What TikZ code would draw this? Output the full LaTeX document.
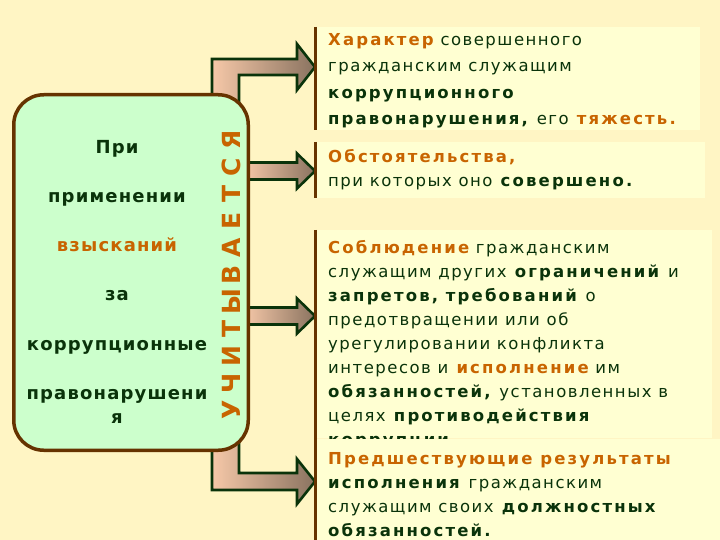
\documentclass[tikz,border=0pt]{standalone}
\usepackage{fontspec}
\setmainfont{DejaVu Sans}[LetterSpace=9, BoldFeatures={LetterSpace=13}]
\newfontfamily\leftfont{DejaVu Sans}[LetterSpace=6.5]
\usetikzlibrary{calc}

\definecolor{paper}{HTML}{FFF5C4}
\definecolor{cardfill}{HTML}{FFFFD2}
\definecolor{mint}{HTML}{CCFFCC}
\definecolor{rust}{HTML}{663300}
\definecolor{pine}{HTML}{0A330A}
\definecolor{ochre}{HTML}{C86400}
\definecolor{peach}{HTML}{F6C8A8}
\definecolor{taupe}{HTML}{8A7360}

\pgfdeclarelayer{bg}
\pgfdeclarelayer{back}
\pgfsetlayers{bg,back,main}

\newcommand\hiword[1]{\textbf{\color{ochre}#1}}

% straight fat arrow from the left box to a card
\newcommand\flatarrow[3]{%
  \coordinate (tip) at (#2.west |- 0,#1);
  \coordinate (root) at ([xshift=-6pt]lbox.east |- 0,#1);
  \draw[fatarrow] ($(root)+(0,-#3)$) -- ($(tip)+(-18,-#3)$) -- ($(tip)+(-18,-17.5)$) -- (tip)
    -- ($(tip)+(-18,17.5)$) -- ($(tip)+(-18,#3)$) -- ($(root)+(0,#3)$) -- cycle;}

\tikzset{
  fatarrow/.style={draw=pine, line width=2.6pt, line join=miter, left color=peach, right color=taupe},
  card/.style={fill=cardfill, inner sep=0pt, anchor=north west},
  cardtext/.style={anchor=north west, inner sep=0pt, align=left, text=pine,
    font=\fontsize{16.5}{24}\selectfont},
  edge/.style={draw=rust, line width=3pt},
  vletter/.style={rotate=90, text=ochre, inner sep=0pt, font=\fontsize{25}{25}\selectfont\bfseries}
}

\begin{document}
\begin{tikzpicture}[x=1pt, y=-1pt]
  \begin{pgfonlayer}{bg}
    \fill[paper] (0,0) rectangle (720,540);
  \end{pgfonlayer}
  \useasboundingbox (0,0) rectangle (720,540);

  % left box
  \node[draw=rust, fill=mint, line width=3.5pt, rounded corners=30pt,
        minimum width=234.5pt, minimum height=355.5pt, inner sep=0pt] (lbox) at (131,272.5) {};
  \node[anchor=north, inner sep=0pt, align=center, text=pine,
        font=\leftfont\fontsize{18}{24.6}\selectfont\bfseries] (lefttext) at (117,140)
    {При\\[24.6pt]применении\\[24.6pt]\hiword{взысканий}\\[24.6pt]за\\[24.6pt]коррупционные\\[24.6pt]правонарушени\\я};
  \foreach \ch [count=\i] in {У,Ч,И,Т,Ы,В,А,Е,Т,С,Я}
    \node[vletter] (v\i) at (231,{410-27*(\i-1)}) {\ch};

  % cards
  \node[card, minimum width=385pt, minimum height=103pt] (r1) at (315,27) {};
  \node[cardtext] (t1) at (328,33) {\hiword{Характер} совершенного\\[2.5pt]
    гражданским служащим\\[2.5pt]\textbf{коррупционного}\\[2.5pt]\textbf{правонарушения,} его \hiword{тяжесть.}};

  \node[card, minimum width=390pt, minimum height=56pt] (r2) at (315,142) {};
  \node[cardtext] (t2) at (328,149) {\hiword{Обстоятельства,}\\при которых оно \textbf{совершено.}};

  \node[card, minimum width=397pt, minimum height=208pt] (r3) at (315,230) {};
  \node[cardtext] (t3) at (328,240) {\hiword{Соблюдение} гражданским\\
    служащим других \textbf{ограничений} и\\
    \textbf{запретов, требований} о\\
    предотвращении или об\\
    урегулировании конфликта\\
    интересов и \hiword{исполнение} им\\
    \textbf{обязанностей,} установленных в\\
    целях \textbf{противодействия}\\
    \textbf{коррупции.}};

  \node[card, minimum width=405pt, minimum height=101.5pt] (r4) at (315,438.5) {};
  \node[cardtext] (t4) at (328,452) {\hiword{Предшествующие результаты}\\
    \textbf{исполнения} гражданским\\
    служащим своих \textbf{должностных}\\
    \textbf{обязанностей.}};

  \draw[edge] (r1.north west) -- (r1.south west);
  \draw[edge] (r2.north west) -- (r2.south west);
  \draw[edge] (r3.north west) -- (r4.south west);

  % arrows
  \begin{pgfonlayer}{back}
    \coordinate (bandl) at ([xshift=-38pt]lbox.east);
    \coordinate (bandr) at ([xshift=-11pt]lbox.east);
    \coordinate (tipa) at (r1.west |- 0,67);
    \draw[fatarrow] (bandl |- 0,110) -- (bandl |- 0,59) -- ($(tipa)+(-18,-8)$) -- ($(tipa)+(-18,-23)$)
      -- (tipa) -- ($(tipa)+(-18,23)$) -- ($(tipa)+(-18,8)$) -- (bandr |- 0,75) -- (bandr |- 0,110) -- cycle;
    \flatarrow{171}{r2}{8.5}
    \flatarrow{316}{r3}{8.5}
    \coordinate (tipd) at (r4.west |- 0,481.5);
    \draw[fatarrow] (bandl |- 0,430) -- (bandl |- 0,490) -- ($(tipd)+(-18,8.5)$) -- ($(tipd)+(-18,22.5)$)
      -- (tipd) -- ($(tipd)+(-18,-22.5)$) -- ($(tipd)+(-18,-8.5)$) -- (bandr |- 0,473) -- (bandr |- 0,430) -- cycle;
  \end{pgfonlayer}
\end{tikzpicture}
\end{document}
